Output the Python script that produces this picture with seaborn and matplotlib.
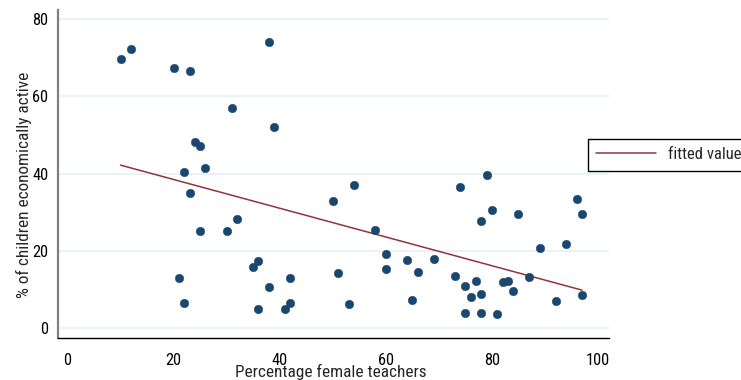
import matplotlib
matplotlib.use("Agg")
import matplotlib.pyplot as plt
import seaborn as sns
import pandas as pd
from matplotlib import font_manager

# ---- data ----
female_teachers = [10, 12, 20, 23, 38, 31, 39, 24, 25, 26, 22, 54, 23, 50, 32, 25, 30,
                   21, 22, 36, 35, 38, 36, 42, 42, 41, 51, 53, 58, 60, 60, 64, 66, 65,
                   69, 74, 79, 80, 78, 85, 96, 97, 89, 94, 73, 75, 77, 76, 78, 82, 83,
                   84, 87, 97, 92, 75, 78, 81]
children_active = [69.8, 72.3, 67.4, 66.5, 74.0, 57.0, 52.2, 48.2, 47.1, 41.4, 40.5, 37.0,
                   35.1, 33.0, 28.3, 25.2, 25.2, 13.0, 6.5, 17.4, 15.7, 10.5, 5.0, 13.0,
                   6.5, 5.0, 14.2, 6.2, 25.5, 19.1, 15.3, 17.6, 14.6, 7.3, 17.8, 36.5,
                   39.7, 30.7, 27.6, 29.5, 33.4, 29.5, 20.6, 21.8, 13.5, 11.0, 12.1, 8.0,
                   8.7, 11.9, 12.3, 9.7, 13.1, 8.5, 7.0, 3.9, 3.8, 3.5]
fit_x = [10, 97]
fit_y = [42.2, 9.8]
x_ticks = [0, 20, 40, 60, 80, 100]
y_ticks = [0, 20, 40, 60, 80]
x_label = "Percentage female teachers"
y_label = "% of children economically active"
legend_label = "fitted values"

pts = pd.DataFrame({"x": female_teachers, "y": children_active})
fit = pd.DataFrame({"x": fit_x, "y": fit_y})

sns.set_style("white")
names = {f.name for f in font_manager.fontManager.ttflist}
fam, k = "Liberation Sans", 0.84
for cand in ["Liberation Sans Narrow", "Arial Narrow", "Roboto Condensed",
             "Archivo Narrow", "PT Sans Narrow"]:
    if cand in names:
        fam, k = cand, 1.0
        break
plt.rcParams["font.family"] = [fam, "DejaVu Sans"]

W, H = 741, 380
fig = plt.figure(figsize=(W / 100, H / 100), dpi=100)
ax = fig.add_axes([58 / W, 1 - 338 / H, (609 - 58) / W, (338 - 10) / H])

DOT = "#1a476f"
LINE = "#90353b"
FS_TICK = 11.8 * k
FS_LAB = 12.4 * k
FS_LEG = 12.0 * k

sns.scatterplot(data=pts, x="x", y="y", ax=ax, color=DOT, s=38, edgecolor=DOT,
                linewidth=0.3, zorder=3, legend=False)
sns.lineplot(data=fit, x="x", y="y", ax=ax, color=LINE, linewidth=1.1,
             label=legend_label, zorder=2, estimator=None)

ax.set_xlim(-1.79, 102.07)
ax.set_ylim(-2.6, 82.4)
ax.set_xticks(x_ticks)
ax.set_yticks(y_ticks)
ax.yaxis.grid(True, color="#eaf2f3", linewidth=1.4)
ax.xaxis.grid(False)
ax.set_axisbelow(True)

for s in ["top", "right"]:
    ax.spines[s].set_visible(False)
ax.spines["left"].set_color("#808080")
ax.spines["left"].set_linewidth(1.6)
ax.spines["bottom"].set_color("#000000")
ax.spines["bottom"].set_linewidth(1.0)

ax.tick_params(axis="y", direction="out", length=6, width=1, color="#808080",
               pad=1, labelsize=FS_TICK, labelcolor="#000000")
ax.tick_params(axis="x", direction="out", length=6, width=1, color="#555555",
               pad=5, labelsize=FS_TICK, labelcolor="#000000")

ax.set_xlabel(x_label, fontsize=FS_LAB)
ax.xaxis.set_label_coords((331 - 58) / 551, (338 - 377.5) / 328)
ax.xaxis.label.set_va("baseline")
ax.set_ylabel(y_label, fontsize=FS_LAB)
ax.yaxis.set_label_coords((32 - 58) / 551, (338 - 185) / 328)

leg = ax.legend(loc="upper left", bbox_to_anchor=(588 / W, 1 - 139 / H),
                bbox_transform=fig.transFigure, frameon=True, fancybox=False,
                fontsize=FS_LEG, handlelength=3.6, handletextpad=0.7, borderpad=0.5,
                borderaxespad=0)
leg.get_frame().set_edgecolor("#000000")
leg.get_frame().set_linewidth(1.0)
leg.get_frame().set_facecolor("white")
leg.get_frame().set_alpha(1)

fig.savefig("out.png", dpi=100)
